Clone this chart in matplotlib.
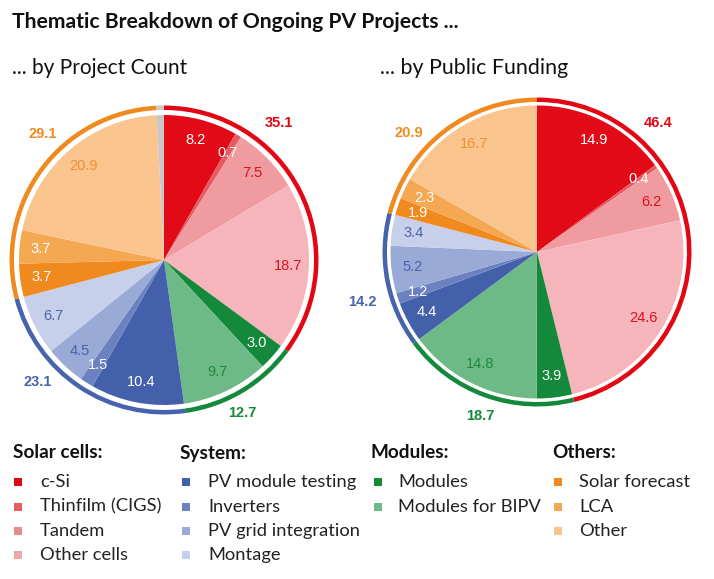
import matplotlib
matplotlib.use("Agg")
import matplotlib.pyplot as plt
from matplotlib.patches import Rectangle
import numpy as np

# ---------------- data ----------------
categories = ["c-Si", "Thinfilm (CIGS)", "Tandem", "Other cells",
              "Modules", "Modules for BIPV",
              "PV module testing", "Inverters", "PV grid integration", "Montage",
              "Solar forecast", "LCA", "Other"]
group_names = ["Solar cells", "Modules", "System", "Others"]   # order around the pie
group_sizes = [4, 2, 4, 3]

count_values = [8.2, 0.7, 7.5, 18.7, 3.0, 9.7, 10.4, 1.5, 4.5, 6.7, 3.7, 3.7, 20.9]
count_unassigned = 0.8
count_group_totals = [35.1, 12.7, 23.1, 29.1]

funding_values = [14.9, 0.4, 6.2, 24.6, 3.9, 14.8, 4.4, 1.2, 5.2, 3.4, 1.9, 2.3, 16.7]
funding_unassigned = 0.0
funding_group_totals = [46.4, 18.7, 14.2, 20.9]

title = "Thematic Breakdown of Ongoing PV Projects ..."
subtitles = ["... by Project Count", "... by Public Funding"]

# legend columns: (header, category indices)
legend_columns = [("Solar cells:", [0, 1, 2, 3]),
                  ("System:", [6, 7, 8, 9]),
                  ("Modules:", [4, 5]),
                  ("Others:", [10, 11, 12])]

# ---------------- style ----------------
slice_colors = ["#E20A17", "#E65A61", "#EF9BA0", "#F5B5BB",
                "#15893B", "#6EBA87",
                "#4460AB", "#6B81C0", "#9AAAD6", "#C6D0EA",
                "#F18A1E", "#F5A852", "#F9C48D"]
legend_colors = ["#DC0A17", "#E35F62", "#E68A8D", "#EBA8AB",
                 "#15893B", "#6EBA87",
                 "#4460AB", "#6B81C0", "#9AAAD6", "#C6D0EA",
                 "#F18A1E", "#F5A852", "#F9C48D"]
unassigned_color = "#C8C8C8"
group_colors = ["#E30613", "#15893B", "#4863AD", "#F08A1F"]
RED_T, GREEN_T, BLUE_T, ORANGE_T = "#D8121F", "#1E8A3C", "#4A63A9", "#EF9033"
label_colors = ["white", "white", RED_T, RED_T,
                "white", GREEN_T,
                "white", "white", BLUE_T, BLUE_T,
                "white", "white", ORANGE_T]

W, H = 714, 579
fig = plt.figure(figsize=(W / 100, H / 100), dpi=100)
ax = fig.add_axes([0, 0, 1, 1])
renderer = fig.canvas.get_renderer()

def Y(py):
    return H - py

label_font = "Liberation Sans"
ui_font = ["Lato", "DejaVu Sans"]

# pie geometry (pixels): center x, center y, radius, ring outer radius
pies = [
    dict(values=count_values, unassigned=count_unassigned, totals=count_group_totals,
         cx=164, cy=260, r=145, ring=154.5,
         glabel=[(40, 179), (153, 172), (226, 176), (316, 175)]),
    dict(values=funding_values, unassigned=funding_unassigned, totals=funding_group_totals,
         cx=537, cy=252, r=146.5, ring=154.5,
         glabel=[(43, 177), (199, 173), (254, 182), (313, 175)]),
]

for p in pies:
    vals = list(p["values"])
    cols = list(slice_colors)
    if p["unassigned"] > 0:
        vals.append(p["unassigned"])
        cols.append(unassigned_color)
    center = (p["cx"], Y(p["cy"]))
    wedges, _ = ax.pie(vals, colors=cols, startangle=90, counterclock=False,
                       radius=p["r"], center=center,
                       wedgeprops=dict(linewidth=0, antialiased=True))
    # inner labels
    for i, w in enumerate(wedges[:len(p["values"])]):
        mid = np.deg2rad((w.theta1 + w.theta2) / 2)
        d = 0.855 * p["r"]
        ax.text(center[0] + d * np.cos(mid), center[1] + d * np.sin(mid),
                f"{p['values'][i]:.1f}", ha="center", va="center",
                fontsize=10.5, family=label_font, color=label_colors[i])
    # outer ring by group
    ring_vals, ring_cols = [], []
    k = 0
    for g, n in enumerate(group_sizes):
        ring_vals.append(sum(p["values"][k:k + n]))
        ring_cols.append(group_colors[g])
        k += n
    if p["unassigned"] > 0:
        ring_vals.append(p["unassigned"])
        ring_cols.append(unassigned_color)
    ax.pie(ring_vals, colors=ring_cols, startangle=90, counterclock=False,
           radius=p["ring"], center=center,
           wedgeprops=dict(width=4.5, linewidth=0))
    # group totals
    for g, (ang, rad) in enumerate(p["glabel"]):
        a = np.deg2rad(90 - ang)
        ax.text(center[0] + rad * np.cos(a), center[1] + rad * np.sin(a),
                f"{p['totals'][g]:.1f}", ha="center", va="center",
                fontsize=10.5, fontweight="bold", family=label_font,
                color=group_colors[g])

def fit_text(x, py, s, target_w, **kw):
    t = ax.text(x, Y(py), s, fontsize=12, **kw)
    w = t.get_window_extent(renderer).width
    t.set_fontsize(12 * target_w / w)
    return t

fit_text(12, 22, title, 444, family=ui_font, fontweight="bold", va="center", color="#111111")
fit_text(12, 68, subtitles[0], 175, family=ui_font, va="center", color="#111111")
fit_text(380, 68, subtitles[1], 187, family=ui_font, va="center", color="#111111")

# legend
probe = ax.text(0, 0, "Thinfilm (CIGS)", fontsize=12, family=ui_font)
leg_fs = 12 * 121 / probe.get_window_extent(renderer).width
probe.remove()
probe = ax.text(0, 0, "Solar cells:", fontsize=12, family=ui_font, fontweight="bold")
head_fs = 12 * 89 / probe.get_window_extent(renderer).width
probe.remove()

col_x = [(13, 18, 40), (180, 186, 208), (371, 378, 398), (552, 558, 579)]
row_y = [482, 506.5, 531, 555]
msz = 8
for (head, idxs), (hx, mx, tx) in zip(legend_columns, col_x):
    ax.text(hx, Y(453), head, fontsize=head_fs, fontweight="bold", family=ui_font,
            va="center", color="#111111")
    for j, ci in enumerate(idxs):
        ax.add_patch(Rectangle((mx - msz / 2, Y(row_y[j]) - msz / 2), msz, msz,
                               facecolor=legend_colors[ci], edgecolor="none"))
        ax.text(tx, Y(row_y[j]), categories[ci], fontsize=leg_fs, family=ui_font,
                va="center", color="#222222")

ax.set_xlim(0, W)
ax.set_ylim(0, H)
ax.set_aspect("auto")
ax.axis("off")
fig.savefig("out.png", dpi=100, facecolor="white")
